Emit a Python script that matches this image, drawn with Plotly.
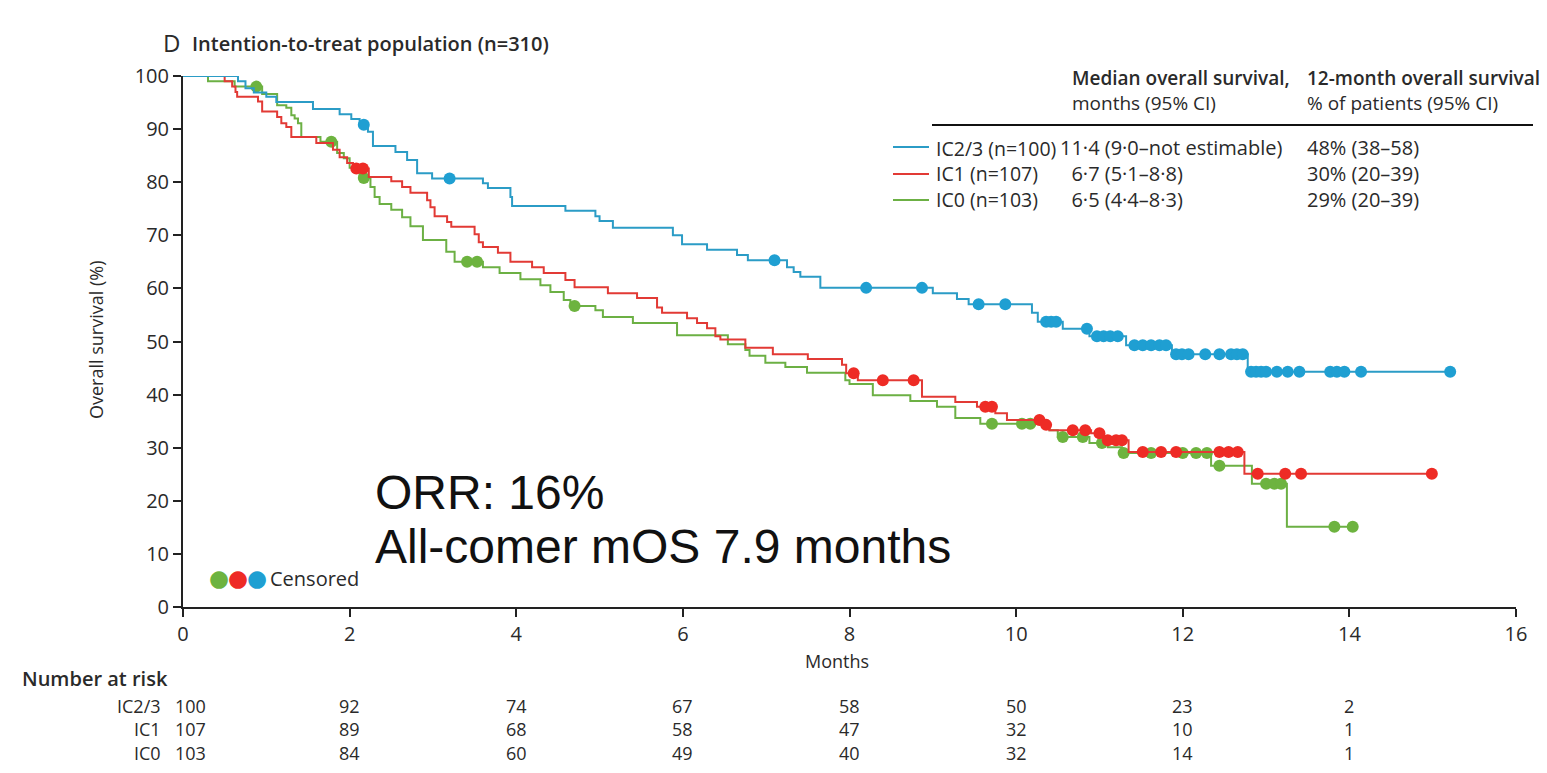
import numpy as np
import plotly.graph_objects as go

# ---------------- data ----------------
groups = ["IC2/3", "IC1", "IC0"]
group_labels = ["IC2/3 (n=100)", "IC1 (n=107)", "IC0 (n=103)"]
median_os = ["11·4 (9·0–not estimable)", "\u20076·7 (5·1–8·8)", "\u20076·5 (4·4–8·3)"]
os12 = ["48% (38–58)", "30% (20–39)", "29% (20–39)"]

ic23_t = [0, 0.66, 0.75, 0.85, 1.0, 1.12, 1.56, 1.88, 2.02, 2.12, 2.22, 2.28, 2.55, 2.69, 2.81, 2.99,
          3.6, 3.66, 3.93, 3.95, 4.59, 4.95, 5.0, 5.16, 5.88, 5.99, 6.29, 6.65, 6.78, 7.25, 7.33, 7.41,
          7.65, 9.0, 9.29, 9.43, 10.19, 10.26, 10.56, 10.88, 11.32, 11.87, 12.78]
ic23_s = [100, 99, 97.7, 96.9, 96.1, 95.1, 93.8, 92.8, 91.9, 90.8, 89.5, 86.8, 85.7, 84.2, 81.7, 80.7,
          79.8, 78.9, 77.2, 75.5, 74.6, 73.6, 72.7, 71.4, 70.0, 68.3, 67.3, 66.3, 65.3, 64.0, 63.1, 62.2,
          60.1, 59.1, 58.0, 57.0, 55.4, 53.7, 52.4, 51.0, 49.3, 47.6, 44.3]
ic23_cens = [2.17, 3.2, 7.1, 8.2, 8.87, 9.55, 9.87, 10.36, 10.42, 10.48, 10.85, 10.97, 11.05, 11.13,
             11.22, 11.42, 11.52, 11.62, 11.72, 11.8, 11.92, 11.99, 12.07, 12.27, 12.44, 12.58, 12.65,
             12.72, 12.82, 12.88, 12.94, 13.0, 13.13, 13.26, 13.4, 13.77, 13.85, 13.94, 14.14, 15.21]

ic1_t = [0, 0.5, 0.59, 0.63, 0.65, 0.9, 0.95, 1.13, 1.18, 1.24, 1.3, 1.6, 1.8, 1.88, 1.97, 2.04, 2.23,
         2.5, 2.63, 2.73, 2.93, 2.97, 3.02, 3.17, 3.22, 3.5, 3.55, 3.6, 3.78, 3.93, 4.19, 4.33, 4.59,
         4.7, 5.1, 5.45, 5.69, 5.75, 6.05, 6.17, 6.29, 6.39, 6.45, 6.75, 7.08, 7.5, 7.91, 7.96, 8.1,
         8.87, 9.27, 9.53, 9.75, 9.89, 10.31, 10.4, 10.9, 11.05, 11.35, 12.74]
ic1_s = [100, 99, 98, 97, 96.1, 95.2, 93.3, 92.3, 91.1, 90.4, 88.5, 87.4, 86.1, 84.7, 83.6, 82.6, 81.0,
         80.2, 79.1, 78.0, 76.6, 75.3, 73.6, 72.5, 71.6, 70.2, 68.7, 67.8, 66.7, 65.0, 64.0, 62.9, 61.6,
         60.2, 59.1, 58.2, 56.4, 55.4, 54.4, 53.5, 52.5, 51.0, 50.4, 48.8, 47.6, 46.7, 45.6, 44.0, 42.7,
         39.6, 38.6, 37.7, 36.5, 35.2, 34.3, 33.3, 32.7, 31.4, 29.2, 25.1]
ic1_cens = [2.08, 2.16, 8.05, 8.4, 8.77, 9.63, 9.71, 10.28, 10.36, 10.68, 10.83, 11.0, 11.1, 11.2, 11.27,
            11.52, 11.74, 11.92, 12.44, 12.55, 12.66, 12.9, 13.23, 13.42, 14.99]

ic0_t = [0, 0.3, 0.62, 0.95, 1.13, 1.24, 1.3, 1.34, 1.38, 1.42, 1.65, 1.85, 1.93, 2.0, 2.12, 2.25, 2.3,
         2.36, 2.5, 2.63, 2.73, 2.88, 3.16, 3.26, 3.6, 3.8, 4.05, 4.29, 4.41, 4.57, 4.65, 4.95, 5.04,
         5.4, 5.93, 6.54, 6.75, 6.8, 6.99, 7.23, 7.49, 7.95, 8.0, 8.28, 8.73, 9.05, 9.27, 9.57, 10.4,
         10.5, 10.88, 11.1, 11.27, 12.34, 12.83, 13.25]
ic0_s = [100, 99, 98, 96.6, 94.5, 94.0, 92.6, 92.0, 91.1, 88.5, 87.6, 85.5, 84.5, 82.7, 80.8, 79.1, 77.2,
         75.9, 74.8, 73.4, 71.7, 69.1, 66.9, 65.0, 64.0, 62.9, 61.7, 60.6, 59.3, 57.8, 56.7, 55.9, 54.6,
         53.5, 51.2, 49.5, 48.4, 47.3, 46.0, 45.2, 44.1, 42.7, 42.0, 39.9, 38.8, 37.7, 35.6, 34.5, 33.3,
         32.0, 30.9, 30.1, 29.0, 26.6, 23.2, 15.1]
ic0_cens = [0.88, 1.78, 2.17, 3.41, 3.53, 4.7, 9.71, 10.07, 10.17, 10.56, 10.8, 11.03, 11.29, 11.62, 12.0,
            12.16, 12.29, 12.44, 13.0, 13.1, 13.18, 13.82, 14.04]

risk_months = [0, 2, 4, 6, 8, 10, 12, 14]
risk_ic23 = [100, 92, 74, 67, 58, 50, 23, 2]
risk_ic1 = [107, 89, 68, 58, 47, 32, 10, 1]
risk_ic0 = [103, 84, 60, 49, 40, 32, 14, 1]

x_ticks = [0, 2, 4, 6, 8, 10, 12, 14, 16]
y_ticks = [0, 10, 20, 30, 40, 50, 60, 70, 80, 90, 100]

# ---------------- styles ----------------
line_colors = ["#2b9cc6", "#e23a35", "#6cb044"]
dot_colors = ["#1f9fd2", "#ee2b25", "#6db33f"]
FONT = "Open Sans"
TXT = "#2a2a2a"
FS = 20

X0, X1, Y0, Y1 = 183, 1516, 607, 76
def px(x):
    return (x - X0) / (X1 - X0)
def py(y):
    return (Y0 - y) / (Y0 - Y1)

fig = go.Figure()

curves = [(ic23_t, ic23_s, ic23_cens), (ic1_t, ic1_s, ic1_cens), (ic0_t, ic0_s, ic0_cens)]
for i in [2, 1, 0]:
    t, s, c = curves[i]
    t = np.array(t, float)
    s = np.array(s, float)
    c = np.array(c, float)
    end = c.max()
    xt = np.append(t, end)
    ys = np.append(s, s[-1])
    fig.add_trace(go.Scatter(x=xt, y=ys, mode="lines", line=dict(color=line_colors[i], width=2, shape="hv"),
                             hoverinfo="skip", showlegend=False))
    idx = np.searchsorted(t, c, side="right") - 1
    fig.add_trace(go.Scatter(x=c, y=s[idx], mode="markers",
                             marker=dict(color=dot_colors[i], size=12, line=dict(width=0)),
                             hoverinfo="skip", showlegend=False))

ann = []
def A(text, x, y, size=FS, anchor="left", weight=400, family=FONT, color=TXT, xref="paper",
      yref="paper", align="left", yanchor="middle"):
    ann.append(dict(text=text, x=x, y=y, xref=xref, yref=yref, xanchor=anchor, yanchor=yanchor,
                    align=align, showarrow=False,
                    font=dict(family=family, size=size, color=color, weight=weight)))

# header
A("D", px(161), py(42), size=24, weight=400)
A("Intention-to-treat population (n=310)", px(190), py(43), size=FS, weight=600)

# table header (two lines each)
SB = '<span style="font-weight:600">%s</span>'
A(SB % "Median overall survival," + "<br>months (95% CI)", px(1070), py(91), size=19)
A(SB % "12-month overall survival" + "<br>% of patients (95% CI)", px(1305), py(91), size=19)

shapes = [dict(type="line", xref="paper", yref="paper", x0=px(932), x1=px(1533), y0=py(125), y1=py(125),
               line=dict(color="#111", width=2))]
row_y = [147, 174, 200]
for i in range(3):
    shapes.append(dict(type="line", xref="paper", yref="paper", x0=px(893), x1=px(929),
                       y0=py(row_y[i]), y1=py(row_y[i]), line=dict(color=line_colors[i], width=2)))
A("<br>".join(group_labels), px(934), py(173.5), size=19.5)
A("<br>".join(median_os), px(1058), py(173.5), size=20)
A("<br>".join(os12), px(1305), py(173.5), size=20)

# censored legend
for i, xx in enumerate([219, 238, 257]):
    A("●", px(xx), py(578), size=23, anchor="center", color=dot_colors[2 - i], family="DejaVu Sans")
A("Censored", px(268), py(578), size=FS)

# big annotation
A("ORR: 16%", px(373), py(492), size=48, family="Liberation Sans", color="#111")
A("All-comer mOS 7.9 months", px(373), py(546), size=48, family="Liberation Sans", color="#111")

# axis titles
A("Months", px(837), py(661), size=18, anchor="center")
ann.append(dict(text="Overall survival (%)", x=px(96), y=py(340), xref="paper", yref="paper",
                xanchor="center", yanchor="middle", showarrow=False, textangle=-90,
                font=dict(family=FONT, size=18, color=TXT)))

# number at risk
A("Number at risk", px(20), py(678), weight=600)
RS = 18
risk_rows = [risk_ic23, risk_ic1, risk_ic0]
mid = py(729)
A("<br>".join(groups), px(163), mid, size=RS, anchor="right", align="right")
for j, m in enumerate(risk_months):
    col = "<br>".join(str(row[j]) for row in risk_rows)
    if m == 0:
        A(col, px(173), mid, size=RS, anchor="left")
    else:
        A(col, m, mid, size=RS, anchor="center", align="center", xref="x")

fig.update_layout(
    width=1547, height=773,
    margin=dict(l=X0, r=1547 - X1, t=Y1, b=773 - Y0, pad=0),
    paper_bgcolor="white", plot_bgcolor="white",
    annotations=ann, shapes=shapes, showlegend=False,
    xaxis=dict(range=[0, 16], tickvals=x_ticks, ticktext=[str(v) for v in x_ticks], showgrid=False,
               zeroline=False, showline=True, linecolor="#222", linewidth=2, ticks="outside",
               ticklen=8, tickwidth=1.5, tickcolor="#222",
               tickfont=dict(family=FONT, size=FS, color=TXT)),
    yaxis=dict(range=[0, 100], tickvals=y_ticks, showgrid=False, zeroline=False, showline=True,
               linecolor="#222", linewidth=2, ticks="outside", ticklen=8, tickwidth=1.5,
               tickcolor="#222", tickfont=dict(family=FONT, size=FS, color=TXT)),
)

fig.write_html("out.html")
